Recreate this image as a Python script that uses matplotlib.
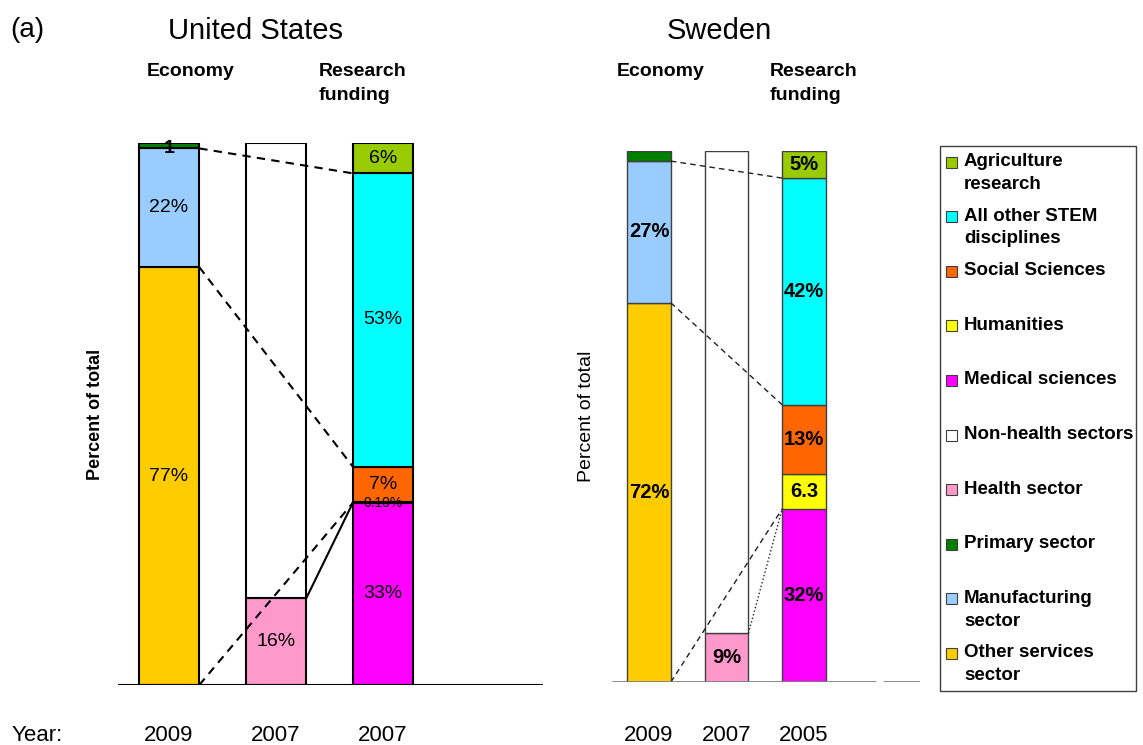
import matplotlib
matplotlib.use("Agg")
import matplotlib.pyplot as plt
from matplotlib.patches import Rectangle
from matplotlib.transforms import blended_transform_factory

plt.rcParams['font.family'] = ['Liberation Sans', 'DejaVu Sans']

# stacks are listed bottom -> top
econ_cats = ["Other services sector", "Manufacturing sector", "Primary sector"]
health_cats = ["Health sector", "Non-health sectors"]
research_cats = ["Medical sciences", "Humanities", "Social Sciences",
                 "All other STEM disciplines", "Agriculture research"]

us_econ = [77.1, 21.9, 1.0]
us_health = [16.0, 84.0]
us_research = [33.6, 0.1, 6.6, 54.1, 5.6]
us_econ_labels = ["77%", "22%", "1"]
us_health_labels = ["16%", ""]
us_research_labels = ["33%", "0.10%", "7%", "53%", "6%"]

se_econ = [71.4, 26.7, 1.9]
se_health = [9.2, 90.8]
se_research = [32.6, 6.6, 13.0, 42.7, 5.1]
se_econ_labels = ["72%", "27%", ""]
se_health_labels = ["9%", ""]
se_research_labels = ["32%", "6.3", "13%", "42%", "5%"]

years_us = ["2009", "2007", "2007"]
years_se = ["2009", "2007", "2005"]

colors = {
    "Agriculture research": "#99CC00",
    "All other STEM disciplines": "#00FFFF",
    "Social Sciences": "#FF6600",
    "Humanities": "#FFFF00",
    "Medical sciences": "#FF00FF",
    "Non-health sectors": "#FFFFFF",
    "Health sector": "#FF99CC",
    "Primary sector": "#008000",
    "Manufacturing sector": "#99CCFF",
    "Other services sector": "#FFCC00",
}
legend_order = ["Agriculture research", "All other STEM disciplines", "Social Sciences",
                "Humanities", "Medical sciences", "Non-health sectors", "Health sector",
                "Primary sector", "Manufacturing sector", "Other services sector"]
legend_text = {"Agriculture research": "Agriculture\nresearch",
               "All other STEM disciplines": "All other STEM\ndisciplines",
               "Manufacturing sector": "Manufacturing\nsector",
               "Other services sector": "Other services\nsector"}

W, H = 1143, 745
fig = plt.figure(figsize=(W / 100, H / 100), dpi=100)


def fx(px):
    return px / W


def fy(py):
    return 1 - py / H


def stack(ax, x, vals, cats, labels, width, ec, lw, bold, size):
    bottom = 0
    tops = [0]
    for v, c, lab in zip(vals, cats, labels):
        ax.bar(x, v, width=width, bottom=bottom, color=colors[c], edgecolor=ec,
               linewidth=lw, zorder=2)
        if lab == "0.10%":
            ax.text(x, bottom + v / 2, lab, ha='center', va='center', fontsize=10, zorder=4)
        elif lab == "1":
            ax.text(x, bottom, lab, ha='center', va='center', fontsize=size,
                    fontweight='bold', zorder=4)
        elif lab:
            ax.text(x, bottom + v / 2, lab, ha='center', va='center', fontsize=size,
                    fontweight='bold' if bold else 'normal', zorder=4)
        bottom += v
        tops.append(bottom)
    return tops


def panel(rect, econ, health, research, el, hl, rl, ec, lw, bold, size,
          line_lw, line_col):
    ax = fig.add_axes(rect)
    ax.set_xlim(-0.477, 3.495)
    ax.set_ylim(0, 100)
    for s in ax.spines.values():
        s.set_visible(False)
    ax.set_xticks([])
    ax.set_yticks([])
    w = 0.565
    e = stack(ax, 0, econ, econ_cats, el, w, ec, lw, bold, size)
    h = stack(ax, 1, health, health_cats, hl, w, ec, lw, bold, size)
    r = stack(ax, 2, research, research_cats, rl, w, ec, lw, bold, size)
    xr0, xl2, xr1 = w / 2, 2 - w / 2, 1 + w / 2
    kw = dict(color=line_col, lw=line_lw, zorder=3)
    ax.plot([xr0, xl2], [e[2], r[4]], ls=(0, (4, 3)), **kw)
    ax.plot([xr0, xl2], [e[1], r[3]], ls=(0, (4, 3)), **kw)
    ax.plot([xr0, xl2], [0, r[1]], ls=(0, (4, 3)), **kw)
    return ax, h, r, xr1, xl2


# United States
ax1, h1, r1, xa, xb = panel([fx(118), fy(685), fx(543) - fx(118), fy(143) - fy(685)],
                            us_econ, us_health, us_research,
                            us_econ_labels, us_health_labels, us_research_labels,
                            'black', 1.5, False, 14, 1.5, 'black')
ax1.plot([xa, xb], [h1[1], r1[1]], color='black', lw=1.5, zorder=3)
ax1.axhline(0, color='black', lw=1.5, zorder=5)
ax1.set_ylabel("Percent of total", fontsize=13, fontweight='bold', labelpad=10)

# Sweden
ax2, h2, r2, xa, xb = panel([fx(612), fy(682), fx(920) - fx(612), fy(151) - fy(682)],
                            se_econ, se_health, se_research,
                            se_econ_labels, se_health_labels, se_research_labels,
                            '#404040', 1.0, True, 14.5, 1.0, '#202020')
ax2.plot([xa, xb], [h2[1], r2[1]], color='#202020', lw=1.0, ls=':', zorder=3)
ax2.hlines(0, -0.477, 2.93, color='#808080', lw=2, zorder=5)
ax2.hlines(0, 3.02, 3.495, color='#808080', lw=2, zorder=5)
ax2.set_ylabel("Percent of total", fontsize=14, labelpad=12)

# year row
fig.text(fx(12), fy(741), "Year:", fontsize=16, va='baseline', ha='left')
for ax, yrs in [(ax1, years_us), (ax2, years_se)]:
    tr = blended_transform_factory(ax.transData, fig.transFigure)
    for i, y in enumerate(yrs):
        ax.text(i, fy(741), y, transform=tr, ha='center', va='baseline', fontsize=16)

# headers
fig.text(fx(10), fy(30), "(a)", fontsize=20, va='center', ha='left')
fig.text(fx(256), fy(31), "United States", fontsize=21, va='center', ha='center')
fig.text(fx(719), fy(31), "Sweden", fontsize=21, va='center', ha='center')
for xe, xr in [(147, 319), (617, 770)]:
    fig.text(fx(xe), fy(71), "Economy", fontsize=14, fontweight='bold', va='center')
    fig.text(fx(xr), fy(63), "Research\nfunding", fontsize=14, fontweight='bold',
             va='top', linespacing=1.55)

# legend box
fig.patches.append(Rectangle((fx(940), fy(691)), fx(1136) - fx(940), fy(146) - fy(691),
                             transform=fig.transFigure, fill=False, edgecolor='#404040',
                             lw=1.0))
for i, c in enumerate(legend_order):
    yc = 162 + i * 54.6
    fig.patches.append(Rectangle((fx(946), fy(yc + 5.5)), fx(11), 11 / H,
                                 transform=fig.transFigure, facecolor=colors[c],
                                 edgecolor='#404040', lw=0.8))
    fig.text(fx(964), fy(yc - 9), legend_text.get(c, c), fontsize=13.5,
             fontweight='bold', va='top', ha='left', linespacing=1.45)

fig.savefig("out.png", dpi=100)
